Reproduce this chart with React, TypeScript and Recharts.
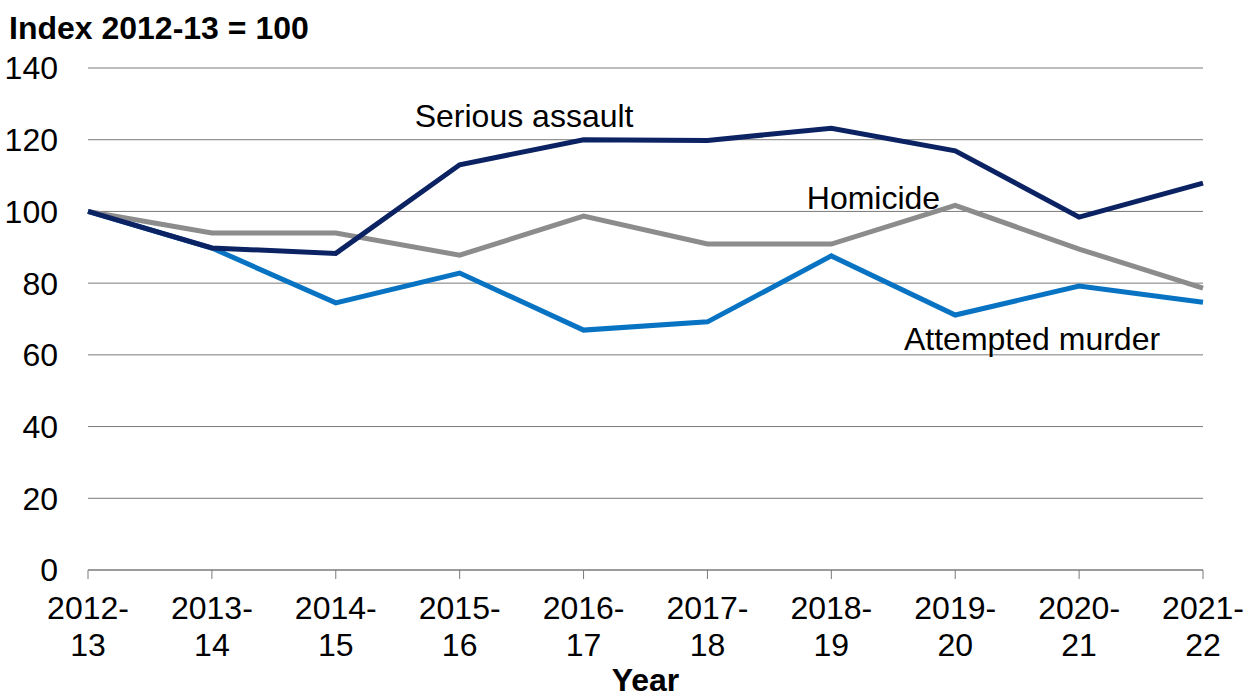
import React from 'react'
import {
  LineChart, Line, XAxis, YAxis, CartesianGrid, ReferenceDot,
} from 'recharts'

// Index 2012-13 = 100
const YEARS = ['2012-13', '2013-14', '2014-15', '2015-16', '2016-17', '2017-18', '2018-19', '2019-20', '2020-21', '2021-22']
const SERIOUS_ASSAULT = [100, 89.8, 88.3, 113, 120, 119.8, 123.2, 116.9, 98.4, 107.9]
const HOMICIDE = [100, 94, 94, 87.8, 98.7, 90.9, 90.9, 101.7, 89.5, 78.6]
const ATTEMPTED_MURDER = [100, 89.8, 74.5, 82.8, 66.9, 69.2, 87.6, 71.1, 79.2, 74.7]
const Y_TICKS = [0, 20, 40, 60, 80, 100, 120, 140]

// line-end labels, placed in data space (x = year index, y = index value)
const LABELS = [
  { text: 'Serious assault', x: 3.52, y: 126.6 },
  { text: 'Homicide', x: 6.34, y: 103.7 },
  { text: 'Attempted murder', x: 7.62, y: 64.4 },
]

const COLORS = { serious: '#0b2263', homicide: '#8c8c8c', attempted: '#0873c2' }
const FONT = '"Liberation Sans", Arial, sans-serif'
const FS = 32

const data = YEARS.map((y, i) => ({
  i,
  year: y,
  serious: SERIOUS_ASSAULT[i],
  homicide: HOMICIDE[i],
  attempted: ATTEMPTED_MURDER[i],
}))

const YearTick = ({ x, y, payload }: any) => {
  const [a, b] = YEARS[payload.value].split('-')
  return (
    <g>
      <text x={x} y={y + 29} textAnchor="middle" dominantBaseline="central" fill="#000" fontSize={FS} fontFamily={FONT}>{a}-</text>
      <text x={x} y={y + 66} textAnchor="middle" dominantBaseline="central" fill="#000" fontSize={FS} fontFamily={FONT}>{b}</text>
    </g>
  )
}

export default function App() {
  return (
    <div style={{ position: 'absolute', left: 0, top: 0, width: 1247, height: 697, background: '#fff', fontFamily: FONT }}>
      <div style={{ position: 'absolute', left: 9, top: 10, fontSize: FS, fontWeight: 'bold', lineHeight: '36px', color: '#000' }}>
        Index 2012-13 = 100
      </div>
      <LineChart width={1247} height={697} data={data} margin={{ top: 68, right: 44, left: 0, bottom: 0 }}>
        <CartesianGrid vertical={false} stroke="#7a7a7a" strokeWidth={1} />
        <XAxis
          type="number"
          dataKey="i"
          domain={[0, 9]}
          ticks={[0, 1, 2, 3, 4, 5, 6, 7, 8, 9]}
          height={127}
          tickSize={9}
          tickMargin={0}
          stroke="#7a7a7a"
          tick={<YearTick />}
          interval={0}
          label={{
            content: ({ viewBox }: any) => (
              <text x={viewBox.x + viewBox.width / 2} y={viewBox.y + 110} textAnchor="middle" dominantBaseline="central" fontSize={FS} fontWeight="bold" fontFamily={FONT} fill="#000">Year</text>
            ),
          }}
        />
        <YAxis
          width={88}
          domain={[0, 140]}
          ticks={Y_TICKS}
          axisLine={false}
          tickLine={false}
          tickSize={0}
          tickMargin={30}
          tick={{ fill: '#000', fontSize: FS, fontFamily: FONT }}
        />
        <Line type="linear" dataKey="attempted" stroke={COLORS.attempted} strokeWidth={5} dot={false} isAnimationActive={false} />
        <Line type="linear" dataKey="homicide" stroke={COLORS.homicide} strokeWidth={5} dot={false} isAnimationActive={false} />
        <Line type="linear" dataKey="serious" stroke={COLORS.serious} strokeWidth={5} dot={false} isAnimationActive={false} />
        {LABELS.map(l => (
          <ReferenceDot
            key={l.text}
            x={l.x}
            y={l.y}
            r={1}
            shape={(p: any) => (
              <text x={p.cx} y={p.cy} textAnchor="middle" dominantBaseline="central" fontSize={FS} fontFamily={FONT} fill="#000">{l.text}</text>
            )}
          />
        ))}
      </LineChart>
    </div>
  )
}
